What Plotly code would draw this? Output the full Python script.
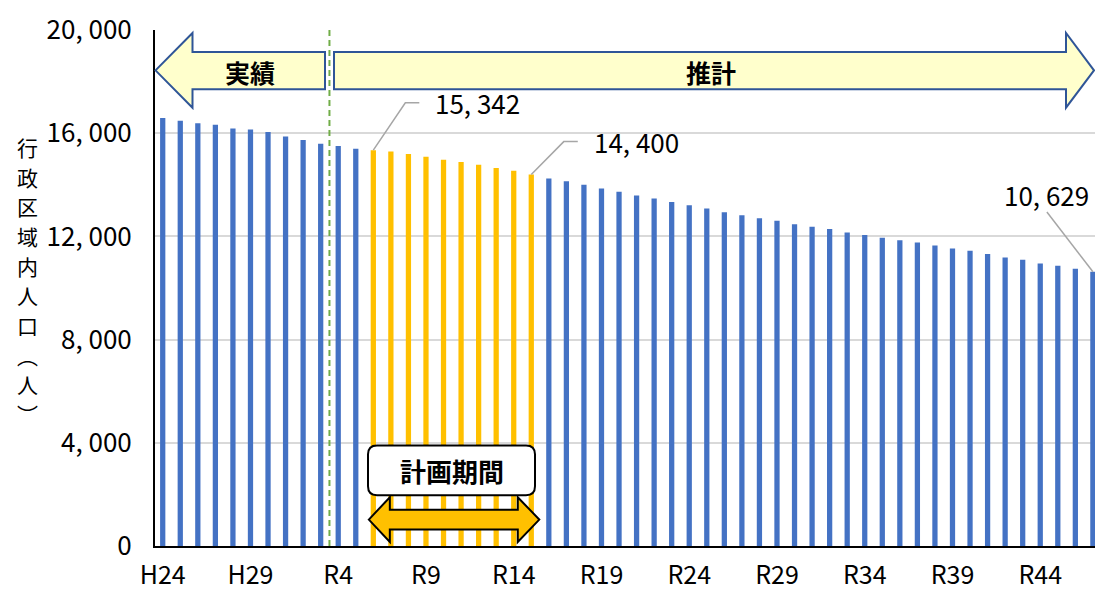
import plotly.graph_objects as go

# Fiscal years: Heisei 24-30, then Reiwa 1-47
years = [f"H{n}" for n in range(24, 31)] + [f"R{n}" for n in range(1, 48)]

# Population within the administrative area (persons)
population = [
    16590, 16487, 16382, 16332, 16178, 16139, 16050, 15869, 15741, 15587,
    15500, 15400, 15342, 15290, 15190, 15085, 14970, 14880, 14775, 14650,
    14545, 14400, 14245, 14141, 13998, 13859, 13728, 13589, 13473, 13330,
    13203, 13082, 12938, 12822, 12706, 12602, 12475, 12371, 12282, 12150,
    12050, 11946, 11850, 11765, 11649, 11533, 11440, 11313, 11185, 11093,
    10954, 10861, 10745, 10629,
]

last_actual_year = "R3"
plan_start, plan_end = "R6", "R15"
y_ticks = [0, 4000, 8000, 12000, 16000, 20000]
x_ticks = years[::5]

BLUE = "#4472C4"
ORANGE = "#FFC000"
FONT_NUM = "Liberation Sans Narrow, Noto Sans CJK JP, sans-serif"
FONT_JP = "Noto Sans CJK JP, sans-serif"

W, H = 1095, 591
L, R, T, B = 155, 1095, 30, 548
X_RANGE = (-0.44, 53.12)
Y_MAX = 20000

i_start, i_end = years.index(plan_start), years.index(plan_end)
i_actual = years.index(last_actual_year)
colors = [ORANGE if i_start <= i <= i_end else BLUE for i in range(len(years))]


def fmt(v):
    return f"{v:,}".replace(",", ", ")


# pixel <-> paper helpers for the decorations
def px(x):
    return (x - L) / (R - L)


def py(y):
    return (B - y) / (B - T)


def bar_px(i):
    return L + (i - X_RANGE[0]) / (X_RANGE[1] - X_RANGE[0]) * (R - L)


def val_py(v):
    return B - v / Y_MAX * (B - T)


def path(points, close=True):
    s = "M " + " L ".join(f"{px(x):.5f},{py(y):.5f}" for x, y in points)
    return s + (" Z" if close else "")


fig = go.Figure()
fig.add_trace(go.Bar(
    x=years, y=population, marker_color=colors, marker_line_width=0,
    hoverinfo="x+y",
))

shapes = []

# boundary between actual figures and projection
shapes.append(dict(
    type="line", xref="x", yref="paper",
    x0=i_actual + 0.5, x1=i_actual + 0.5, y0=0, y1=1,
    line=dict(color="#70AD47", width=2, dash="6px,4px"), layer="above",
))

ARROW_FILL = "#FFFFCC"
ARROW_LINE = "#2F5597"
top_h, body_t, mid, body_b, bot_h = 33, 52, 70.5, 89.5, 108

# 実績 arrow (points left)
shapes.append(dict(
    type="path", xref="paper", yref="paper", layer="above",
    path=path([(155.5, mid), (192.5, top_h), (192.5, body_t), (325, body_t),
               (325, body_b), (192.5, body_b), (192.5, bot_h)]),
    fillcolor=ARROW_FILL, line=dict(color=ARROW_LINE, width=2),
))
# 推計 arrow (points right)
shapes.append(dict(
    type="path", xref="paper", yref="paper", layer="above",
    path=path([(334, body_t), (1066, body_t), (1066, top_h), (1094, mid),
               (1066, bot_h), (1066, body_b), (334, body_b)]),
    fillcolor=ARROW_FILL, line=dict(color=ARROW_LINE, width=2),
))

# 計画期間 rounded box
bx0, by0, bx1, by1, r = 368, 447, 535, 497, 9
box_path = (
    f"M {px(bx0 + r)},{py(by0)} L {px(bx1 - r)},{py(by0)} "
    f"Q {px(bx1)},{py(by0)} {px(bx1)},{py(by0 + r)} "
    f"L {px(bx1)},{py(by1 - r)} "
    f"Q {px(bx1)},{py(by1)} {px(bx1 - r)},{py(by1)} "
    f"L {px(bx0 + r)},{py(by1)} "
    f"Q {px(bx0)},{py(by1)} {px(bx0)},{py(by1 - r)} "
    f"L {px(bx0)},{py(by0 + r)} "
    f"Q {px(bx0)},{py(by0)} {px(bx0 + r)},{py(by0)} Z"
)
shapes.append(dict(
    type="path", xref="paper", yref="paper", layer="above", path=box_path,
    fillcolor="white", line=dict(color="black", width=2),
))

# double-headed arrow under the box
ax0, ax1 = bar_px(i_start) - 4.5, bar_px(i_end) + 8
hb0, hb1 = ax0 + 21, ax1 - 21.5
shapes.append(dict(
    type="path", xref="paper", yref="paper", layer="above",
    path=path([(ax0, 521.5), (hb0, 499), (hb0, 511.5), (hb1, 511.5), (hb1, 499),
               (ax1, 521.5), (hb1, 544), (hb1, 531.5), (hb0, 531.5), (hb0, 544)]),
    fillcolor=ORANGE, line=dict(color="black", width=2),
))

annotations = []

# value call-outs with leader lines
LEADER = dict(color="#A6A6A6", width=1.5)
callouts = [
    (i_start, (32, -47.5), 14, 14),
    (i_end, (32.5, -33), 14, 14),
]
for i, (dx, dy), hlen, gap in callouts:
    x0, y0 = bar_px(i), val_py(population[i])
    x1, y1 = x0 + dx, y0 + dy
    shapes.append(dict(
        type="path", xref="paper", yref="paper", layer="above",
        path=path([(x0, y0), (x1, y1), (x1 + hlen, y1)], close=False),
        line=LEADER,
    ))
    annotations.append(dict(
        xref="paper", yref="paper", x=px(x1 + hlen + gap), y=py(y1),
        xanchor="left", yanchor="middle", showarrow=False,
        text=fmt(population[i]), font=dict(family=FONT_NUM, size=26, color="black"),
    ))

i_last = len(years) - 1
lx0, ly0 = bar_px(i_last), val_py(population[i_last])
shapes.append(dict(
    type="line", xref="paper", yref="paper", layer="above",
    x0=px(lx0), y0=py(ly0), x1=px(lx0 - 46), y1=py(ly0 - 60), line=LEADER,
))
annotations.append(dict(
    xref="paper", yref="paper", x=px(lx0 - 46), y=py(ly0 - 78),
    xanchor="center", yanchor="middle", showarrow=False,
    text=fmt(population[i_last]), font=dict(family=FONT_NUM, size=26, color="black"),
))

# arrow / box captions
captions = [("実績", 250, 72, 25), ("推計", 711, 72, 25), ("計画期間", 451.5, 472, 26)]
for text, cx, cy, size in captions:
    annotations.append(dict(
        xref="paper", yref="paper", x=px(cx), y=py(cy),
        xanchor="center", yanchor="middle", showarrow=False,
        text=f"<b>{text}</b>", font=dict(family=FONT_JP, size=size, color="black"),
    ))

# vertical axis title, one glyph per line
title_chars = list("行政区域内人口") + ["︵", "人", "︶"]
step = 29.8
first_y = 281.5 - step * (len(title_chars) - 1) / 2
for k, ch in enumerate(title_chars):
    annotations.append(dict(
        xref="paper", yref="paper", x=px(27), y=py(first_y + k * step),
        xanchor="center", yanchor="middle", showarrow=False,
        text=ch, font=dict(family=FONT_JP, size=21, color="black"),
    ))

fig.update_layout(
    width=W, height=H,
    margin=dict(l=L, r=W - R, t=T, b=H - B, pad=0),
    paper_bgcolor="white", plot_bgcolor="white",
    showlegend=False, bargap=0.7,
    shapes=shapes, annotations=annotations,
    font=dict(family=FONT_NUM, size=26, color="black"),
)
fig.update_xaxes(
    range=list(X_RANGE), tickmode="array", tickvals=x_ticks, ticktext=x_ticks,
    showline=True, linecolor="black", linewidth=2, ticks="",
    showgrid=False, ticklabelstandoff=6,
    tickfont=dict(family=FONT_NUM, size=25, color="black"),
)
fig.update_yaxes(
    range=[0, Y_MAX], tickmode="array", tickvals=y_ticks,
    ticktext=[fmt(v) for v in y_ticks],
    showline=True, linecolor="black", linewidth=2, ticks="",
    showgrid=True, gridcolor="#D9D9D9", gridwidth=1.5, zeroline=False,
    ticklabelstandoff=16,
    tickfont=dict(family=FONT_NUM, size=26, color="black"),
)

fig.write_html("out.html")
